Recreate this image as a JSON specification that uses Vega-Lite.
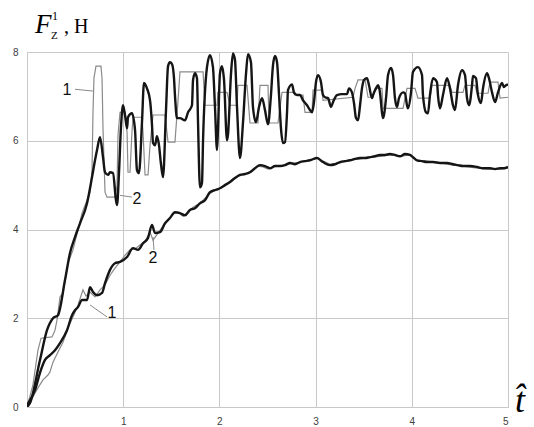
{
  "$schema": "https://vega.github.io/schema/vega-lite/v6.json",
  "width": 481,
  "height": 355,
  "autosize": {"type": "none"},
  "padding": {"left": 27, "top": 52, "right": 26, "bottom": 20},
  "background": "white",
  "config": {
    "view": {"stroke": null},
    "axis": {"grid": true, "gridColor": "#c8c8c8", "domainColor": "#c8c8c8", "ticks": false, "labelFont": "Liberation Sans", "labelFontSize": 10, "labelColor": "#404040", "labelPadding": 9, "title": null}
  },
  "datasets": {
    "curves": [
      {"c":"upper","k":"2","t":0,"F":0},{"c":"upper","k":"2","t":0.031,"F":0.09},{"c":"upper","k":"2","t":0.135,"F":1.06},{"c":"upper","k":"2","t":0.208,"F":1.73},{"c":"upper","k":"2","t":0.27,"F":2.0},{"c":"upper","k":"2","t":0.322,"F":2.07},{"c":"upper","k":"2","t":0.395,"F":2.86},{"c":"upper","k":"2","t":0.447,"F":3.47},{"c":"upper","k":"2","t":0.499,"F":3.83},{"c":"upper","k":"2","t":0.551,"F":4.14},{"c":"upper","k":"2","t":0.624,"F":4.59},{"c":"upper","k":"2","t":0.676,"F":5.18},{"c":"upper","k":"2","t":0.707,"F":5.56},{"c":"upper","k":"2","t":0.728,"F":5.79},{"c":"upper","k":"2","t":0.759,"F":6.08},{"c":"upper","k":"2","t":0.79,"F":5.63},{"c":"upper","k":"2","t":0.811,"F":5.29},{"c":"upper","k":"2","t":0.842,"F":5.23},{"c":"upper","k":"2","t":0.863,"F":5.29},{"c":"upper","k":"2","t":0.894,"F":5.27},{"c":"upper","k":"2","t":0.925,"F":4.66},{"c":"upper","k":"2","t":0.936,"F":4.55},{"c":"upper","k":"2","t":0.956,"F":5.27},{"c":"upper","k":"2","t":0.977,"F":6.31},{"c":"upper","k":"2","t":0.998,"F":6.8},{"c":"upper","k":"2","t":1.019,"F":6.58},{"c":"upper","k":"2","t":1.04,"F":6.28},{"c":"upper","k":"2","t":1.05,"F":6.53},{"c":"upper","k":"2","t":1.091,"F":6.62},{"c":"upper","k":"2","t":1.123,"F":6.24},{"c":"upper","k":"2","t":1.143,"F":5.34},{"c":"upper","k":"2","t":1.164,"F":5.27},{"c":"upper","k":"2","t":1.195,"F":6.4},{"c":"upper","k":"2","t":1.216,"F":7.3},{"c":"upper","k":"2","t":1.247,"F":7.18},{"c":"upper","k":"2","t":1.279,"F":6.91},{"c":"upper","k":"2","t":1.299,"F":6.37},{"c":"upper","k":"2","t":1.31,"F":5.95},{"c":"upper","k":"2","t":1.331,"F":5.9},{"c":"upper","k":"2","t":1.351,"F":6.1},{"c":"upper","k":"2","t":1.372,"F":5.9},{"c":"upper","k":"2","t":1.393,"F":5.47},{"c":"upper","k":"2","t":1.414,"F":5.18},{"c":"upper","k":"2","t":1.445,"F":6.69},{"c":"upper","k":"2","t":1.466,"F":7.68},{"c":"upper","k":"2","t":1.486,"F":7.77},{"c":"upper","k":"2","t":1.507,"F":7.73},{"c":"upper","k":"2","t":1.528,"F":7.41},{"c":"upper","k":"2","t":1.538,"F":7.03},{"c":"upper","k":"2","t":1.559,"F":6.51},{"c":"upper","k":"2","t":1.59,"F":6.51},{"c":"upper","k":"2","t":1.642,"F":6.46},{"c":"upper","k":"2","t":1.674,"F":6.64},{"c":"upper","k":"2","t":1.715,"F":6.8},{"c":"upper","k":"2","t":1.726,"F":7.37},{"c":"upper","k":"2","t":1.746,"F":7.52},{"c":"upper","k":"2","t":1.767,"F":7.41},{"c":"upper","k":"2","t":1.778,"F":6.4},{"c":"upper","k":"2","t":1.798,"F":4.95},{"c":"upper","k":"2","t":1.819,"F":5.05},{"c":"upper","k":"2","t":1.83,"F":6.01},{"c":"upper","k":"2","t":1.871,"F":7.66},{"c":"upper","k":"2","t":1.902,"F":7.93},{"c":"upper","k":"2","t":1.933,"F":7.66},{"c":"upper","k":"2","t":1.954,"F":6.76},{"c":"upper","k":"2","t":1.975,"F":5.79},{"c":"upper","k":"2","t":1.985,"F":6.24},{"c":"upper","k":"2","t":2.006,"F":7.52},{"c":"upper","k":"2","t":2.027,"F":7.68},{"c":"upper","k":"2","t":2.048,"F":7.37},{"c":"upper","k":"2","t":2.079,"F":6.01},{"c":"upper","k":"2","t":2.089,"F":6.13},{"c":"upper","k":"2","t":2.121,"F":7.52},{"c":"upper","k":"2","t":2.141,"F":7.97},{"c":"upper","k":"2","t":2.162,"F":7.82},{"c":"upper","k":"2","t":2.183,"F":6.76},{"c":"upper","k":"2","t":2.214,"F":5.61},{"c":"upper","k":"2","t":2.245,"F":6.4},{"c":"upper","k":"2","t":2.277,"F":7.52},{"c":"upper","k":"2","t":2.297,"F":7.95},{"c":"upper","k":"2","t":2.328,"F":7.77},{"c":"upper","k":"2","t":2.349,"F":6.76},{"c":"upper","k":"2","t":2.38,"F":6.42},{"c":"upper","k":"2","t":2.412,"F":6.76},{"c":"upper","k":"2","t":2.443,"F":6.96},{"c":"upper","k":"2","t":2.474,"F":6.69},{"c":"upper","k":"2","t":2.505,"F":6.37},{"c":"upper","k":"2","t":2.536,"F":7.03},{"c":"upper","k":"2","t":2.557,"F":7.7},{"c":"upper","k":"2","t":2.578,"F":7.91},{"c":"upper","k":"2","t":2.599,"F":7.77},{"c":"upper","k":"2","t":2.62,"F":7.03},{"c":"upper","k":"2","t":2.64,"F":6.28},{"c":"upper","k":"2","t":2.661,"F":5.95},{"c":"upper","k":"2","t":2.682,"F":5.97},{"c":"upper","k":"2","t":2.703,"F":6.64},{"c":"upper","k":"2","t":2.713,"F":7.14},{"c":"upper","k":"2","t":2.755,"F":7.27},{"c":"upper","k":"2","t":2.775,"F":7.09},{"c":"upper","k":"2","t":2.807,"F":7.03},{"c":"upper","k":"2","t":2.838,"F":7.03},{"c":"upper","k":"2","t":2.869,"F":6.91},{"c":"upper","k":"2","t":2.911,"F":6.8},{"c":"upper","k":"2","t":2.942,"F":6.69},{"c":"upper","k":"2","t":2.963,"F":6.64},{"c":"upper","k":"2","t":2.983,"F":6.87},{"c":"upper","k":"2","t":3.004,"F":7.32},{"c":"upper","k":"2","t":3.025,"F":7.48},{"c":"upper","k":"2","t":3.056,"F":7.32},{"c":"upper","k":"2","t":3.077,"F":7.03},{"c":"upper","k":"2","t":3.098,"F":6.98},{"c":"upper","k":"2","t":3.129,"F":6.96},{"c":"upper","k":"2","t":3.16,"F":6.76},{"c":"upper","k":"2","t":3.181,"F":6.87},{"c":"upper","k":"2","t":3.222,"F":7.03},{"c":"upper","k":"2","t":3.274,"F":7.05},{"c":"upper","k":"2","t":3.326,"F":7.05},{"c":"upper","k":"2","t":3.347,"F":7.18},{"c":"upper","k":"2","t":3.378,"F":7.09},{"c":"upper","k":"2","t":3.399,"F":6.85},{"c":"upper","k":"2","t":3.42,"F":6.51},{"c":"upper","k":"2","t":3.441,"F":6.46},{"c":"upper","k":"2","t":3.462,"F":6.8},{"c":"upper","k":"2","t":3.482,"F":7.18},{"c":"upper","k":"2","t":3.503,"F":7.37},{"c":"upper","k":"2","t":3.534,"F":7.41},{"c":"upper","k":"2","t":3.555,"F":7.25},{"c":"upper","k":"2","t":3.586,"F":6.96},{"c":"upper","k":"2","t":3.597,"F":7.03},{"c":"upper","k":"2","t":3.628,"F":7.18},{"c":"upper","k":"2","t":3.649,"F":7.25},{"c":"upper","k":"2","t":3.669,"F":7.09},{"c":"upper","k":"2","t":3.69,"F":6.64},{"c":"upper","k":"2","t":3.701,"F":6.51},{"c":"upper","k":"2","t":3.732,"F":6.96},{"c":"upper","k":"2","t":3.753,"F":7.48},{"c":"upper","k":"2","t":3.784,"F":7.64},{"c":"upper","k":"2","t":3.805,"F":7.48},{"c":"upper","k":"2","t":3.825,"F":6.96},{"c":"upper","k":"2","t":3.846,"F":6.76},{"c":"upper","k":"2","t":3.867,"F":6.96},{"c":"upper","k":"2","t":3.909,"F":7.09},{"c":"upper","k":"2","t":3.929,"F":7.07},{"c":"upper","k":"2","t":3.95,"F":6.8},{"c":"upper","k":"2","t":3.96,"F":6.73},{"c":"upper","k":"2","t":3.992,"F":7.09},{"c":"upper","k":"2","t":4.012,"F":7.55},{"c":"upper","k":"2","t":4.064,"F":7.66},{"c":"upper","k":"2","t":4.106,"F":7.48},{"c":"upper","k":"2","t":4.116,"F":7.03},{"c":"upper","k":"2","t":4.148,"F":6.64},{"c":"upper","k":"2","t":4.168,"F":6.62},{"c":"upper","k":"2","t":4.189,"F":7.03},{"c":"upper","k":"2","t":4.22,"F":7.41},{"c":"upper","k":"2","t":4.262,"F":7.32},{"c":"upper","k":"2","t":4.272,"F":7.03},{"c":"upper","k":"2","t":4.293,"F":6.73},{"c":"upper","k":"2","t":4.324,"F":7.03},{"c":"upper","k":"2","t":4.366,"F":7.41},{"c":"upper","k":"2","t":4.397,"F":7.18},{"c":"upper","k":"2","t":4.428,"F":6.8},{"c":"upper","k":"2","t":4.449,"F":6.69},{"c":"upper","k":"2","t":4.48,"F":7.25},{"c":"upper","k":"2","t":4.522,"F":7.59},{"c":"upper","k":"2","t":4.553,"F":7.48},{"c":"upper","k":"2","t":4.574,"F":6.96},{"c":"upper","k":"2","t":4.595,"F":6.8},{"c":"upper","k":"2","t":4.626,"F":7.25},{"c":"upper","k":"2","t":4.636,"F":7.46},{"c":"upper","k":"2","t":4.667,"F":7.41},{"c":"upper","k":"2","t":4.688,"F":7.03},{"c":"upper","k":"2","t":4.719,"F":6.85},{"c":"upper","k":"2","t":4.74,"F":7.18},{"c":"upper","k":"2","t":4.782,"F":7.52},{"c":"upper","k":"2","t":4.802,"F":7.41},{"c":"upper","k":"2","t":4.834,"F":7.09},{"c":"upper","k":"2","t":4.865,"F":6.87},{"c":"upper","k":"2","t":4.896,"F":7.09},{"c":"upper","k":"2","t":4.938,"F":7.3},{"c":"upper","k":"2","t":4.958,"F":7.21},{"c":"upper","k":"2","t":4.979,"F":7.25},{"c":"upper","k":"2","t":5.0,"F":7.27},

      {"c":"upper","k":"1","t":0,"F":0},{"c":"upper","k":"1","t":0.062,"F":0.5},{"c":"upper","k":"1","t":0.114,"F":1.28},{"c":"upper","k":"1","t":0.146,"F":1.55},{"c":"upper","k":"1","t":0.26,"F":1.58},{"c":"upper","k":"1","t":0.291,"F":1.73},{"c":"upper","k":"1","t":0.312,"F":1.96},{"c":"upper","k":"1","t":0.343,"F":2.48},{"c":"upper","k":"1","t":0.374,"F":2.57},{"c":"upper","k":"1","t":0.405,"F":2.97},{"c":"upper","k":"1","t":0.426,"F":3.24},{"c":"upper","k":"1","t":0.478,"F":3.54},{"c":"upper","k":"1","t":0.53,"F":3.99},{"c":"upper","k":"1","t":0.572,"F":4.37},{"c":"upper","k":"1","t":0.624,"F":4.66},{"c":"upper","k":"1","t":0.655,"F":4.84},{"c":"upper","k":"1","t":0.676,"F":5.34},{"c":"upper","k":"1","t":0.686,"F":6.64},{"c":"upper","k":"1","t":0.696,"F":7.41},{"c":"upper","k":"1","t":0.717,"F":7.68},{"c":"upper","k":"1","t":0.769,"F":7.68},{"c":"upper","k":"1","t":0.78,"F":7.41},{"c":"upper","k":"1","t":0.79,"F":6.28},{"c":"upper","k":"1","t":0.811,"F":4.84},{"c":"upper","k":"1","t":0.832,"F":4.73},{"c":"upper","k":"1","t":0.915,"F":4.73},{"c":"upper","k":"1","t":0.936,"F":5.0},{"c":"upper","k":"1","t":0.946,"F":6.13},{"c":"upper","k":"1","t":0.967,"F":6.64},{"c":"upper","k":"1","t":1.019,"F":6.64},{"c":"upper","k":"1","t":1.04,"F":6.19},{"c":"upper","k":"1","t":1.05,"F":5.29},{"c":"upper","k":"1","t":1.071,"F":5.29},{"c":"upper","k":"1","t":1.091,"F":6.19},{"c":"upper","k":"1","t":1.102,"F":6.53},{"c":"upper","k":"1","t":1.195,"F":6.53},{"c":"upper","k":"1","t":1.206,"F":6.19},{"c":"upper","k":"1","t":1.227,"F":5.23},{"c":"upper","k":"1","t":1.258,"F":5.23},{"c":"upper","k":"1","t":1.279,"F":5.9},{"c":"upper","k":"1","t":1.31,"F":6.58},{"c":"upper","k":"1","t":1.435,"F":6.58},{"c":"upper","k":"1","t":1.466,"F":5.97},{"c":"upper","k":"1","t":1.538,"F":5.97},{"c":"upper","k":"1","t":1.57,"F":6.91},{"c":"upper","k":"1","t":1.59,"F":7.55},{"c":"upper","k":"1","t":1.83,"F":7.55},{"c":"upper","k":"1","t":1.85,"F":6.8},{"c":"upper","k":"1","t":1.975,"F":6.8},{"c":"upper","k":"1","t":1.985,"F":7.09},{"c":"upper","k":"1","t":2.079,"F":7.09},{"c":"upper","k":"1","t":2.11,"F":6.8},{"c":"upper","k":"1","t":2.183,"F":6.8},{"c":"upper","k":"1","t":2.193,"F":7.25},{"c":"upper","k":"1","t":2.287,"F":7.25},{"c":"upper","k":"1","t":2.318,"F":6.4},{"c":"upper","k":"1","t":2.401,"F":6.4},{"c":"upper","k":"1","t":2.422,"F":7.25},{"c":"upper","k":"1","t":2.505,"F":7.25},{"c":"upper","k":"1","t":2.516,"F":6.4},{"c":"upper","k":"1","t":2.609,"F":6.4},{"c":"upper","k":"1","t":2.651,"F":7.09},{"c":"upper","k":"1","t":2.765,"F":7.09},{"c":"upper","k":"1","t":2.786,"F":7.03},{"c":"upper","k":"1","t":2.869,"F":7.03},{"c":"upper","k":"1","t":2.89,"F":6.64},{"c":"upper","k":"1","t":2.963,"F":6.64},{"c":"upper","k":"1","t":2.973,"F":7.14},{"c":"upper","k":"1","t":3.067,"F":7.14},{"c":"upper","k":"1","t":3.077,"F":6.91},{"c":"upper","k":"1","t":3.389,"F":6.98},{"c":"upper","k":"1","t":3.41,"F":7.18},{"c":"upper","k":"1","t":3.441,"F":7.37},{"c":"upper","k":"1","t":3.514,"F":7.37},{"c":"upper","k":"1","t":3.545,"F":6.98},{"c":"upper","k":"1","t":3.597,"F":6.98},{"c":"upper","k":"1","t":3.618,"F":7.18},{"c":"upper","k":"1","t":3.69,"F":7.18},{"c":"upper","k":"1","t":3.701,"F":6.73},{"c":"upper","k":"1","t":3.909,"F":6.73},{"c":"upper","k":"1","t":3.95,"F":7.18},{"c":"upper","k":"1","t":4.033,"F":7.18},{"c":"upper","k":"1","t":4.064,"F":6.96},{"c":"upper","k":"1","t":4.189,"F":6.96},{"c":"upper","k":"1","t":4.21,"F":7.25},{"c":"upper","k":"1","t":4.397,"F":7.25},{"c":"upper","k":"1","t":4.418,"F":7.09},{"c":"upper","k":"1","t":4.532,"F":7.09},{"c":"upper","k":"1","t":4.553,"F":7.25},{"c":"upper","k":"1","t":4.657,"F":7.25},{"c":"upper","k":"1","t":4.678,"F":7.07},{"c":"upper","k":"1","t":4.792,"F":7.07},{"c":"upper","k":"1","t":4.813,"F":7.32},{"c":"upper","k":"1","t":4.896,"F":7.32},{"c":"upper","k":"1","t":4.917,"F":6.96},{"c":"upper","k":"1","t":5.0,"F":6.98},

      {"c":"lower","k":"2","t":0,"F":0.05},{"c":"lower","k":"2","t":0.083,"F":0.38},{"c":"lower","k":"2","t":0.135,"F":0.77},{"c":"lower","k":"2","t":0.187,"F":1.06},{"c":"lower","k":"2","t":0.239,"F":1.17},{"c":"lower","k":"2","t":0.291,"F":1.28},{"c":"lower","k":"2","t":0.343,"F":1.44},{"c":"lower","k":"2","t":0.416,"F":1.73},{"c":"lower","k":"2","t":0.468,"F":2.07},{"c":"lower","k":"2","t":0.499,"F":2.18},{"c":"lower","k":"2","t":0.53,"F":2.25},{"c":"lower","k":"2","t":0.572,"F":2.41},{"c":"lower","k":"2","t":0.624,"F":2.41},{"c":"lower","k":"2","t":0.655,"F":2.7},{"c":"lower","k":"2","t":0.686,"F":2.59},{"c":"lower","k":"2","t":0.728,"F":2.52},{"c":"lower","k":"2","t":0.78,"F":2.57},{"c":"lower","k":"2","t":0.811,"F":2.79},{"c":"lower","k":"2","t":0.863,"F":3.09},{"c":"lower","k":"2","t":0.915,"F":3.24},{"c":"lower","k":"2","t":0.967,"F":3.27},{"c":"lower","k":"2","t":1.04,"F":3.38},{"c":"lower","k":"2","t":1.102,"F":3.58},{"c":"lower","k":"2","t":1.154,"F":3.54},{"c":"lower","k":"2","t":1.206,"F":3.69},{"c":"lower","k":"2","t":1.258,"F":3.81},{"c":"lower","k":"2","t":1.299,"F":4.1},{"c":"lower","k":"2","t":1.331,"F":3.92},{"c":"lower","k":"2","t":1.383,"F":3.94},{"c":"lower","k":"2","t":1.435,"F":4.14},{"c":"lower","k":"2","t":1.486,"F":4.26},{"c":"lower","k":"2","t":1.538,"F":4.39},{"c":"lower","k":"2","t":1.59,"F":4.37},{"c":"lower","k":"2","t":1.642,"F":4.32},{"c":"lower","k":"2","t":1.694,"F":4.44},{"c":"lower","k":"2","t":1.746,"F":4.48},{"c":"lower","k":"2","t":1.798,"F":4.59},{"c":"lower","k":"2","t":1.85,"F":4.66},{"c":"lower","k":"2","t":1.902,"F":4.84},{"c":"lower","k":"2","t":1.954,"F":4.89},{"c":"lower","k":"2","t":2.006,"F":4.93},{"c":"lower","k":"2","t":2.058,"F":5.0},{"c":"lower","k":"2","t":2.11,"F":5.07},{"c":"lower","k":"2","t":2.162,"F":5.16},{"c":"lower","k":"2","t":2.214,"F":5.23},{"c":"lower","k":"2","t":2.266,"F":5.25},{"c":"lower","k":"2","t":2.318,"F":5.29},{"c":"lower","k":"2","t":2.37,"F":5.38},{"c":"lower","k":"2","t":2.422,"F":5.45},{"c":"lower","k":"2","t":2.474,"F":5.43},{"c":"lower","k":"2","t":2.526,"F":5.38},{"c":"lower","k":"2","t":2.578,"F":5.43},{"c":"lower","k":"2","t":2.63,"F":5.43},{"c":"lower","k":"2","t":2.682,"F":5.45},{"c":"lower","k":"2","t":2.734,"F":5.5},{"c":"lower","k":"2","t":2.786,"F":5.47},{"c":"lower","k":"2","t":2.838,"F":5.52},{"c":"lower","k":"2","t":2.89,"F":5.54},{"c":"lower","k":"2","t":2.942,"F":5.56},{"c":"lower","k":"2","t":3.015,"F":5.61},{"c":"lower","k":"2","t":3.077,"F":5.52},{"c":"lower","k":"2","t":3.15,"F":5.45},{"c":"lower","k":"2","t":3.202,"F":5.47},{"c":"lower","k":"2","t":3.254,"F":5.52},{"c":"lower","k":"2","t":3.306,"F":5.54},{"c":"lower","k":"2","t":3.358,"F":5.56},{"c":"lower","k":"2","t":3.41,"F":5.59},{"c":"lower","k":"2","t":3.462,"F":5.61},{"c":"lower","k":"2","t":3.514,"F":5.61},{"c":"lower","k":"2","t":3.566,"F":5.63},{"c":"lower","k":"2","t":3.618,"F":5.65},{"c":"lower","k":"2","t":3.669,"F":5.68},{"c":"lower","k":"2","t":3.722,"F":5.68},{"c":"lower","k":"2","t":3.773,"F":5.7},{"c":"lower","k":"2","t":3.825,"F":5.68},{"c":"lower","k":"2","t":3.877,"F":5.65},{"c":"lower","k":"2","t":3.929,"F":5.7},{"c":"lower","k":"2","t":3.981,"F":5.68},{"c":"lower","k":"2","t":4.012,"F":5.63},{"c":"lower","k":"2","t":4.054,"F":5.56},{"c":"lower","k":"2","t":4.106,"F":5.54},{"c":"lower","k":"2","t":4.158,"F":5.52},{"c":"lower","k":"2","t":4.22,"F":5.52},{"c":"lower","k":"2","t":4.293,"F":5.5},{"c":"lower","k":"2","t":4.366,"F":5.5},{"c":"lower","k":"2","t":4.428,"F":5.47},{"c":"lower","k":"2","t":4.48,"F":5.45},{"c":"lower","k":"2","t":4.532,"F":5.43},{"c":"lower","k":"2","t":4.605,"F":5.43},{"c":"lower","k":"2","t":4.678,"F":5.41},{"c":"lower","k":"2","t":4.74,"F":5.38},{"c":"lower","k":"2","t":4.813,"F":5.38},{"c":"lower","k":"2","t":4.865,"F":5.36},{"c":"lower","k":"2","t":4.917,"F":5.38},{"c":"lower","k":"2","t":4.958,"F":5.38},{"c":"lower","k":"2","t":5.0,"F":5.41},

      {"c":"lower","k":"1","t":0,"F":0.02},{"c":"lower","k":"1","t":0.062,"F":0.23},{"c":"lower","k":"1","t":0.114,"F":0.43},{"c":"lower","k":"1","t":0.166,"F":0.61},{"c":"lower","k":"1","t":0.218,"F":0.72},{"c":"lower","k":"1","t":0.239,"F":0.79},{"c":"lower","k":"1","t":0.27,"F":1.01},{"c":"lower","k":"1","t":0.322,"F":1.24},{"c":"lower","k":"1","t":0.374,"F":1.46},{"c":"lower","k":"1","t":0.426,"F":1.78},{"c":"lower","k":"1","t":0.478,"F":2.03},{"c":"lower","k":"1","t":0.53,"F":2.3},{"c":"lower","k":"1","t":0.582,"F":2.64},{"c":"lower","k":"1","t":0.613,"F":2.5},{"c":"lower","k":"1","t":0.655,"F":2.59},{"c":"lower","k":"1","t":0.707,"F":2.48},{"c":"lower","k":"1","t":0.759,"F":2.64},{"c":"lower","k":"1","t":0.811,"F":2.75},{"c":"lower","k":"1","t":0.863,"F":2.97},{"c":"lower","k":"1","t":0.915,"F":3.13},{"c":"lower","k":"1","t":0.967,"F":3.27},{"c":"lower","k":"1","t":1.019,"F":3.42},{"c":"lower","k":"1","t":1.071,"F":3.54},{"c":"lower","k":"1","t":1.123,"F":3.56},{"c":"lower","k":"1","t":1.175,"F":3.65},{"c":"lower","k":"1","t":1.227,"F":3.74},{"c":"lower","k":"1","t":1.279,"F":3.94},{"c":"lower","k":"1","t":1.31,"F":3.76},{"c":"lower","k":"1","t":1.362,"F":3.92},{"c":"lower","k":"1","t":1.414,"F":4.08},{"c":"lower","k":"1","t":1.466,"F":4.21},{"c":"lower","k":"1","t":1.518,"F":4.35},{"c":"lower","k":"1","t":1.57,"F":4.39},{"c":"lower","k":"1","t":1.622,"F":4.3},{"c":"lower","k":"1","t":1.674,"F":4.39},{"c":"lower","k":"1","t":1.726,"F":4.5},{"c":"lower","k":"1","t":1.778,"F":4.57},{"c":"lower","k":"1","t":1.83,"F":4.66},{"c":"lower","k":"1","t":1.882,"F":4.77},{"c":"lower","k":"1","t":1.933,"F":4.86},{"c":"lower","k":"1","t":1.985,"F":4.89},{"c":"lower","k":"1","t":2.037,"F":4.98},{"c":"lower","k":"1","t":2.089,"F":5.05},{"c":"lower","k":"1","t":2.141,"F":5.14},{"c":"lower","k":"1","t":2.193,"F":5.2},{"c":"lower","k":"1","t":2.245,"F":5.23},{"c":"lower","k":"1","t":2.297,"F":5.27},{"c":"lower","k":"1","t":2.349,"F":5.36},{"c":"lower","k":"1","t":2.401,"F":5.43},{"c":"lower","k":"1","t":2.453,"F":5.41},{"c":"lower","k":"1","t":2.505,"F":5.36},{"c":"lower","k":"1","t":2.557,"F":5.41},{"c":"lower","k":"1","t":2.609,"F":5.43},{"c":"lower","k":"1","t":2.661,"F":5.45},{"c":"lower","k":"1","t":2.713,"F":5.47},{"c":"lower","k":"1","t":2.765,"F":5.5},{"c":"lower","k":"1","t":2.817,"F":5.5},{"c":"lower","k":"1","t":2.869,"F":5.54},{"c":"lower","k":"1","t":2.942,"F":5.56},{"c":"lower","k":"1","t":3.015,"F":5.61},{"c":"lower","k":"1","t":3.077,"F":5.54},{"c":"lower","k":"1","t":3.15,"F":5.47},{"c":"lower","k":"1","t":3.254,"F":5.5},{"c":"lower","k":"1","t":3.358,"F":5.56},{"c":"lower","k":"1","t":3.462,"F":5.59},{"c":"lower","k":"1","t":3.566,"F":5.63},{"c":"lower","k":"1","t":3.669,"F":5.65},{"c":"lower","k":"1","t":3.773,"F":5.68},{"c":"lower","k":"1","t":3.877,"F":5.65},{"c":"lower","k":"1","t":3.981,"F":5.68},{"c":"lower","k":"1","t":4.054,"F":5.56},{"c":"lower","k":"1","t":4.158,"F":5.54},{"c":"lower","k":"1","t":4.293,"F":5.5},{"c":"lower","k":"1","t":4.428,"F":5.45},{"c":"lower","k":"1","t":4.532,"F":5.43},{"c":"lower","k":"1","t":4.678,"F":5.38},{"c":"lower","k":"1","t":4.813,"F":5.36},{"c":"lower","k":"1","t":4.917,"F":5.36},{"c":"lower","k":"1","t":5.0,"F":5.38}
    ],
    "notes": [
      {"label":"1","t":0.416,"F":7.14},
      {"label":"2","t":1.143,"F":4.68},
      {"label":"2","t":1.31,"F":3.36},
      {"label":"1","t":0.884,"F":2.12}
    ],
    "leaders": [
      {"t":0.499,"F":7.16,"t2":0.686,"F2":7.12},
      {"t":0.967,"F":4.77,"t2":1.091,"F2":4.73},
      {"t":1.31,"F":3.83,"t2":1.32,"F2":3.54},
      {"t":0.655,"F":2.3,"t2":0.832,"F2":2.03}
    ]
  },
  "layer": [
    {
      "data": {"name": "curves"},
      "transform": [{"filter": "datum.k == '1'"}],
      "mark": {"type": "line", "color": "#8a8a8a", "strokeWidth": 1.2, "clip": true},
      "encoding": {
        "x": {"field": "t", "type": "quantitative", "scale": {"domain": [0, 5], "nice": false}, "axis": {"values": [0, 1, 2, 3, 4, 5], "format": "d", "labelExpr": "datum.value == 0 ? '' : datum.label"}},
        "y": {"field": "F", "type": "quantitative", "scale": {"domain": [0, 8], "nice": false}, "axis": {"values": [0, 2, 4, 6, 8], "format": "d"}},
        "detail": {"field": "c"}
      }
    },
    {
      "data": {"name": "curves"},
      "transform": [{"filter": "datum.k == '2'"}],
      "mark": {"type": "line", "color": "#151515", "strokeWidth": 2.4, "interpolate": "monotone", "clip": true},
      "encoding": {
        "x": {"field": "t", "type": "quantitative"},
        "y": {"field": "F", "type": "quantitative"},
        "detail": {"field": "c"}
      }
    },
    {
      "data": {"name": "leaders"},
      "mark": {"type": "rule", "color": "#8a8a8a", "strokeWidth": 1},
      "encoding": {
        "x": {"field": "t", "type": "quantitative"},
        "y": {"field": "F", "type": "quantitative"},
        "x2": {"field": "t2"},
        "y2": {"field": "F2"}
      }
    },
    {
      "data": {"name": "notes"},
      "mark": {"type": "text", "font": "Liberation Sans", "fontSize": 16, "color": "#111", "align": "center", "baseline": "middle"},
      "encoding": {
        "x": {"field": "t", "type": "quantitative"},
        "y": {"field": "F", "type": "quantitative"},
        "text": {"field": "label"}
      }
    },
    {
      "data": {"values": [{"t": 0.083, "F": 8.42, "s": "F"}]},
      "mark": {"type": "text", "font": "Liberation Serif", "fontStyle": "italic", "fontSize": 27, "color": "#000", "align": "left", "baseline": "alphabetic"},
      "encoding": {"x": {"field": "t", "type": "quantitative"}, "y": {"field": "F", "type": "quantitative"}, "text": {"field": "s"}}
    },
    {
      "data": {"values": [{"t": 0.26, "F": 8.72, "s": "1"}]},
      "mark": {"type": "text", "font": "Liberation Serif", "fontSize": 12, "color": "#000", "align": "left", "baseline": "alphabetic"},
      "encoding": {"x": {"field": "t", "type": "quantitative"}, "y": {"field": "F", "type": "quantitative"}, "text": {"field": "s"}}
    },
    {
      "data": {"values": [{"t": 0.25, "F": 8.29, "s": "Z"}]},
      "mark": {"type": "text", "font": "Liberation Serif", "fontSize": 11, "color": "#000", "align": "left", "baseline": "alphabetic"},
      "encoding": {"x": {"field": "t", "type": "quantitative"}, "y": {"field": "F", "type": "quantitative"}, "text": {"field": "s"}}
    },
    {
      "data": {"values": [{"t": 0.385, "F": 8.42, "s": ", Н"}]},
      "mark": {"type": "text", "font": "Liberation Serif", "fontSize": 20, "color": "#000", "align": "left", "baseline": "alphabetic"},
      "encoding": {"x": {"field": "t", "type": "quantitative"}, "y": {"field": "F", "type": "quantitative"}, "text": {"field": "s"}}
    },
    {
      "data": {"values": [{"t": 5.073, "F": -0.11, "s": "t̂"}]},
      "mark": {"type": "text", "font": "Liberation Serif", "fontStyle": "italic", "fontSize": 36, "color": "#000", "align": "left", "baseline": "alphabetic"},
      "encoding": {"x": {"field": "t", "type": "quantitative"}, "y": {"field": "F", "type": "quantitative"}, "text": {"field": "s"}}
    }
  ]
}
